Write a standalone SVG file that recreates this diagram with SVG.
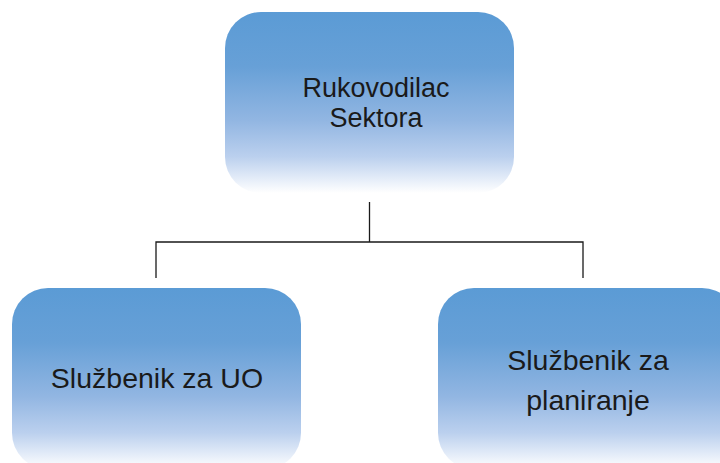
<svg xmlns="http://www.w3.org/2000/svg" width="720" height="463" viewBox="0 0 720 463">
<defs>
<linearGradient id="g" x1="0" y1="0" x2="0" y2="1">
<stop offset="0" stop-color="#5B9BD5"/>
<stop offset="0.3" stop-color="#67A0D7"/>
<stop offset="0.6" stop-color="#92B6E2"/>
<stop offset="0.8" stop-color="#BBD0EE"/>
<stop offset="1" stop-color="#FFFFFF"/>
</linearGradient>
<style>
.box{fill:url(#g);}
.t{font-family:"Liberation Sans",Arial,sans-serif;fill:#1a1a1a;text-anchor:middle;}
.c{stroke:#1a1a1a;stroke-width:1.3;fill:none;}
</style>
</defs>
<rect width="720" height="463" fill="#ffffff"/>
<g id="connectors">
<path class="c" d="M369.5 202 V242 M156 278 V242 H583 V278"/>
</g>
<g id="node-rukovodilac">
<rect class="box" x="225" y="12" width="289" height="181" rx="36"/>
<text class="t" x="376" y="97" font-size="27">Rukovodilac</text>
<text class="t" x="376" y="127" font-size="27">Sektora</text>
</g>
<g id="node-uo">
<rect class="box" x="12" y="288" width="289" height="181" rx="36"/>
<text class="t" x="157" y="388" font-size="28.5">Službenik za UO</text>
</g>
<g id="node-planiranje">
<rect class="box" x="438" y="288" width="300" height="181" rx="36"/>
<text class="t" x="588" y="370" font-size="28.5">Službenik za</text>
<text class="t" x="588" y="410" font-size="28.5">planiranje</text>
</g>
</svg>
